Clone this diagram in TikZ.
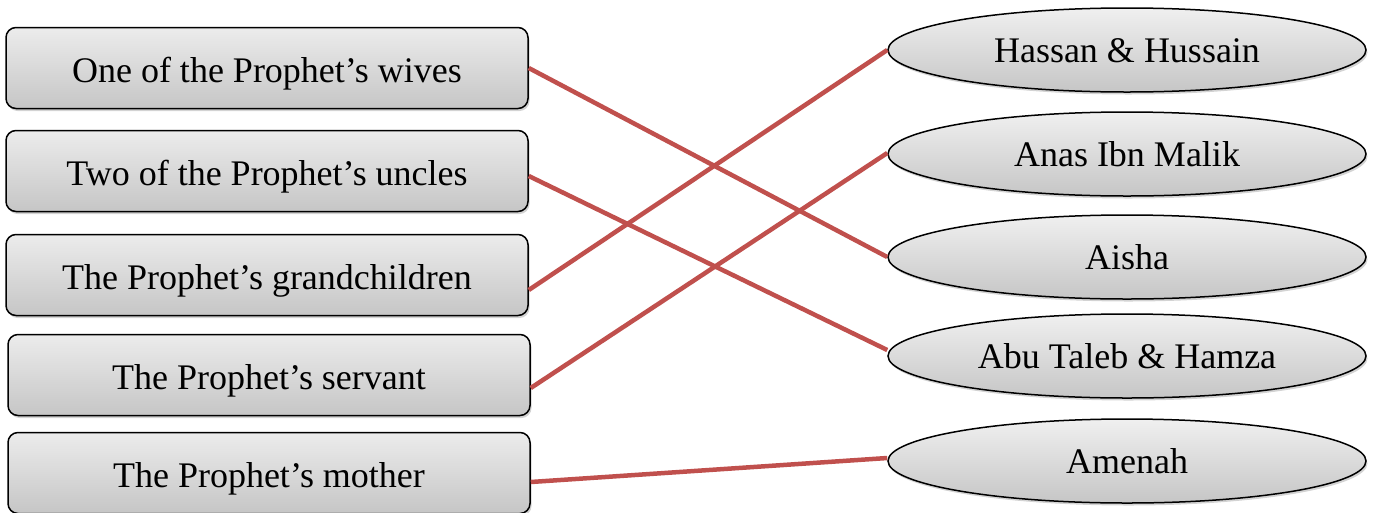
\documentclass[tikz,border=0pt]{standalone}
\usepackage{fontspec}
\setmainfont{Liberation Serif}
\usetikzlibrary{shapes.geometric,shadows}
\definecolor{linkred}{HTML}{C0504D}
\tikzset{
    answerbox/.style={draw=black, line width=1.5pt, rounded corners=10pt,
        top color=gray!15, bottom color=gray!45,
        drop shadow={shadow xshift=1.5pt, shadow yshift=-2.5pt, opacity=0.35},
        minimum width=522pt, minimum height=81pt, inner sep=0pt,
        text height=36pt, text depth=8pt,
        font=\fontsize{36}{40}\selectfont},
    nameoval/.style={draw=black, line width=1.5pt, ellipse,
        top color=gray!12, bottom color=gray!45,
        drop shadow={shadow xshift=1.5pt, shadow yshift=-2.5pt, opacity=0.35},
        minimum width=478pt, minimum height=84pt, inner sep=0pt,
        text height=32pt, text depth=8pt,
        font=\fontsize{36}{40}\selectfont},
    link/.style={linkred, line width=4.5pt}
}
\begin{document}
\begin{tikzpicture}[x=1pt,y=-1pt]
    \useasboundingbox (0,0) rectangle (1375,512);
    % left column
    \node[answerbox] (wives) at (267,68) {One of the Prophet’s wives};
    \node[answerbox] (uncles) at (267,171) {Two of the Prophet’s uncles};
    \node[answerbox] (grand) at (267,275) {The Prophet’s grandchildren};
    \node[answerbox] (servant) at (269,375) {The Prophet’s servant};
    \node[answerbox] (mother) at (269,473) {The Prophet’s mother};
    % right column
    \node[nameoval] (hassan) at (1127,50) {Hassan \& Hussain};
    \node[nameoval] (anas) at (1127,154) {Anas Ibn Malik};
    \node[nameoval] (aisha) at (1127,257) {Aisha};
    \node[nameoval] (abu) at (1127,356) {Abu Taleb \& Hamza};
    \node[nameoval] (amenah) at (1127,461) {Amenah};
    % matching lines
    \draw[link] (wives.east) -- (aisha.west);
    \draw[link] ([yshift=-5]uncles.east) -- ([yshift=6]abu.west);
    \draw[link] ([yshift=-15]grand.east) -- (hassan.west);
    \draw[link] ([yshift=-13]servant.east) -- ([yshift=1]anas.west);
    \draw[link] ([yshift=-9]mother.east) -- ([yshift=3]amenah.west);
\end{tikzpicture}
\end{document}
